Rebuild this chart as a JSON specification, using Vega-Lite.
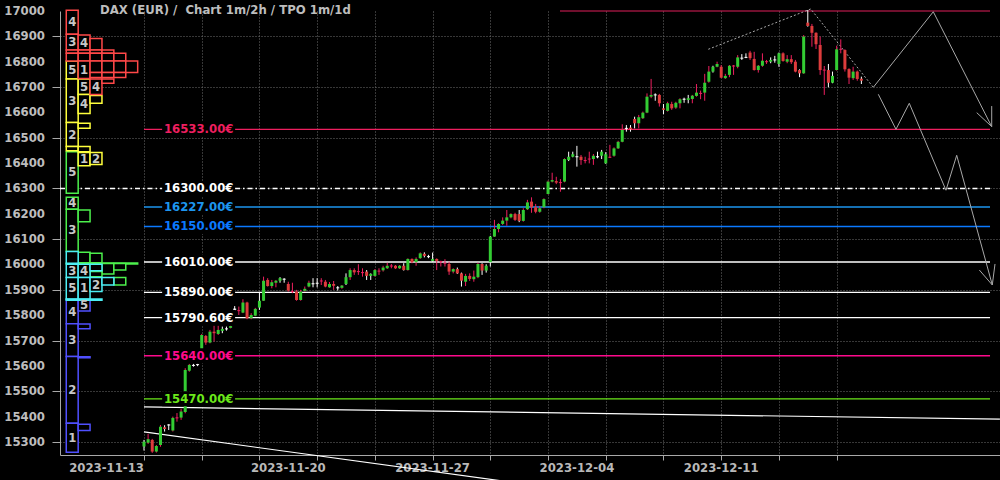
{
"$schema": "https://vega.github.io/schema/vega-lite/v6.json",
"width": 940,
"height": 444,
"autosize": {"type": "none"},
"padding": {"left": 60, "top": 11, "right": 0, "bottom": 25},
"background": "#000000",
"config": {"view": {"stroke": null}},
"datasets": {
"ylabels": [{"v":15300},{"v":15400},{"v":15500},{"v":15600},{"v":15700},{"v":15800},{"v":15900},{"v":16000},{"v":16100},{"v":16200},{"v":16300},{"v":16400},{"v":16500},{"v":16600},{"v":16700},{"v":16800},{"v":16900},{"v":17000}],
"xlabels": [{"i":0,"d":"2023-11-13"},{"i":35,"d":"2023-11-20"},{"i":70,"d":"2023-11-27"},{"i":105,"d":"2023-12-04"},{"i":140,"d":"2023-12-11"}],
"levels": [
{"p":16533,"lab":"16533.00€"},{"p":16300,"lab":"16300.00€"},{"p":16227,"lab":"16227.00€"},{"p":16150,"lab":"16150.00€"},{"p":16010,"lab":"16010.00€"},{"p":15890,"lab":"15890.00€"},{"p":15790.6,"lab":"15790.60€"},{"p":15640,"lab":"15640.00€"},{"p":15470,"lab":"15470.00€"}
],
"paths": [
{"s":"L1","o":0,"i":0,"p":15438},{"s":"L1","o":1,"i":207.6,"p":15390},
{"s":"L2","o":0,"i":0,"p":15339.5},{"s":"L2","o":1,"i":87.6,"p":15144.6},
{"s":"A1","o":0,"i":136.87,"p":16849},{"s":"A1","o":1,"i":161.71,"p":17008},{"s":"A1","o":2,"i":176.89,"p":16699},
{"s":"A2","o":0,"i":176.89,"p":16699},{"s":"A2","o":1,"i":191.44,"p":16997},{"s":"A2","o":2,"i":205.61,"p":16544},
{"s":"A3","o":0,"i":201.97,"p":16599},{"s":"A3","o":1,"i":205.61,"p":16544},{"s":"A3","o":2,"i":205.61,"p":16625},
{"s":"B1","o":0,"i":178.1,"p":16671.5},{"s":"B1","o":1,"i":182.39,"p":16533.4},{"s":"B1","o":2,"i":185.62,"p":16636},{"s":"B1","o":3,"i":194.52,"p":16293},{"s":"B1","o":4,"i":197.12,"p":16430.8},{"s":"B1","o":5,"i":205.75,"p":15919.3},
{"s":"B2","o":0,"i":202.6,"p":15978.4},{"s":"B2","o":1,"i":205.75,"p":15919.3},{"s":"B2","o":2,"i":206.41,"p":16002.1}
],
"tpo": [
{"g":"B","x0":-18.85,"x1":-15.96,"lo":15766,"hi":15863,"t":"4"},
{"g":"B","x0":-18.85,"x1":-15.96,"lo":15637,"hi":15766,"t":"3"},
{"g":"B","x0":-18.85,"x1":-15.96,"lo":15374,"hi":15637,"t":"2"},
{"g":"B","x0":-18.85,"x1":-15.96,"lo":15259,"hi":15374,"t":"1"},
{"g":"B","x0":-15.96,"x1":-13.08,"lo":15817,"hi":15863,"t":"5"},
{"g":"B","x0":-15.96,"x1":-13.08,"lo":15747,"hi":15765},
{"g":"B","x0":-15.96,"x1":-13.08,"lo":15632,"hi":15636},
{"g":"B","x0":-15.96,"x1":-13.08,"lo":15345,"hi":15370},
{"g":"G","x0":-18.85,"x1":-15.96,"lo":16281,"hi":16445,"t":"5"},
{"g":"G","x0":-18.85,"x1":-15.96,"lo":16218,"hi":16265,"t":"4"},
{"g":"G","x0":-18.85,"x1":-15.96,"lo":16051,"hi":16218,"t":"3"},
{"g":"G","x0":-15.96,"x1":-13.08,"lo":16169,"hi":16215},
{"g":"G","x0":-15.96,"x1":-13.08,"lo":16007,"hi":16048},
{"g":"G","x0":-13.08,"x1":-10.19,"lo":16007,"hi":16044},
{"g":"G","x0":-18.85,"x1":-1.53,"lo":16002,"hi":16006},
{"g":"G","x0":-10.19,"x1":-7.31,"lo":15963,"hi":16004},
{"g":"G","x0":-7.31,"x1":-4.42,"lo":15978,"hi":16004},
{"g":"G","x0":-13.08,"x1":-10.19,"lo":15952,"hi":15972},
{"g":"G","x0":-7.31,"x1":-4.42,"lo":15919,"hi":15949},
{"g":"C","x0":-18.85,"x1":-15.96,"lo":16005,"hi":16051},
{"g":"C","x0":-18.85,"x1":-15.96,"lo":15949,"hi":16001,"t":"3"},
{"g":"C","x0":-18.85,"x1":-15.96,"lo":15863,"hi":15949,"t":"5"},
{"g":"C","x0":-15.96,"x1":-13.08,"lo":15949,"hi":16001,"t":"4"},
{"g":"C","x0":-15.96,"x1":-13.08,"lo":15863,"hi":15949,"t":"1"},
{"g":"C","x0":-13.08,"x1":-10.19,"lo":15975,"hi":16001},
{"g":"C","x0":-13.08,"x1":-10.19,"lo":15893,"hi":15949,"t":"2"},
{"g":"C","x0":-10.19,"x1":-7.31,"lo":15919,"hi":15949},
{"g":"C","x0":-18.85,"x1":-10.19,"lo":15859,"hi":15864},
{"g":"Y","x0":-18.85,"x1":-15.96,"lo":16732,"hi":16803,"t":"5"},
{"g":"Y","x0":-18.85,"x1":-15.96,"lo":16560,"hi":16732,"t":"3"},
{"g":"Y","x0":-18.85,"x1":-15.96,"lo":16465,"hi":16560,"t":"2"},
{"g":"Y","x0":-18.85,"x1":-15.96,"lo":16449,"hi":16465},
{"g":"Y","x0":-15.96,"x1":-13.08,"lo":16671,"hi":16732,"t":"5"},
{"g":"Y","x0":-15.96,"x1":-13.08,"lo":16596,"hi":16671,"t":"4"},
{"g":"Y","x0":-15.96,"x1":-13.08,"lo":16537,"hi":16557},
{"g":"Y","x0":-15.96,"x1":-13.08,"lo":16445,"hi":16465},
{"g":"Y","x0":-15.96,"x1":-13.08,"lo":16390,"hi":16442,"t":"1"},
{"g":"Y","x0":-13.08,"x1":-10.19,"lo":16636,"hi":16667},
{"g":"Y","x0":-13.08,"x1":-10.19,"lo":16394,"hi":16442,"t":"2"},
{"g":"R","x0":-18.85,"x1":-15.96,"lo":16908,"hi":17003,"t":"4"},
{"g":"R","x0":-18.85,"x1":-15.96,"lo":16846,"hi":16908,"t":"3"},
{"g":"R","x0":-18.85,"x1":-15.96,"lo":16833,"hi":16846},
{"g":"R","x0":-18.85,"x1":-15.96,"lo":16803,"hi":16833},
{"g":"R","x0":-15.96,"x1":-13.08,"lo":16846,"hi":16905,"t":"4"},
{"g":"R","x0":-15.96,"x1":-13.08,"lo":16833,"hi":16846},
{"g":"R","x0":-15.96,"x1":-13.08,"lo":16803,"hi":16833},
{"g":"R","x0":-15.96,"x1":-13.08,"lo":16734,"hi":16803,"t":"1"},
{"g":"R","x0":-13.08,"x1":-10.19,"lo":16846,"hi":16892},
{"g":"R","x0":-13.08,"x1":-10.19,"lo":16833,"hi":16846},
{"g":"R","x0":-13.08,"x1":-10.19,"lo":16803,"hi":16833},
{"g":"R","x0":-13.08,"x1":-10.19,"lo":16757,"hi":16803},
{"g":"R","x0":-13.08,"x1":-10.19,"lo":16738,"hi":16757},
{"g":"R","x0":-13.08,"x1":-10.19,"lo":16671,"hi":16732,"t":"4"},
{"g":"R","x0":-10.19,"x1":-7.31,"lo":16833,"hi":16846},
{"g":"R","x0":-10.19,"x1":-7.31,"lo":16803,"hi":16833},
{"g":"R","x0":-10.19,"x1":-7.31,"lo":16757,"hi":16803},
{"g":"R","x0":-10.19,"x1":-7.31,"lo":16738,"hi":16757},
{"g":"R","x0":-10.19,"x1":-7.31,"lo":16715,"hi":16732},
{"g":"R","x0":-7.31,"x1":-4.42,"lo":16803,"hi":16833},
{"g":"R","x0":-7.31,"x1":-4.42,"lo":16757,"hi":16803},
{"g":"R","x0":-7.31,"x1":-4.42,"lo":16738,"hi":16757},
{"g":"R","x0":-4.42,"x1":-1.53,"lo":16757,"hi":16803}
],
"candles": [
{"i":0,"o":15282,"h":15308,"l":15266,"c":15301,"w":"b"},
{"i":1,"o":15297,"h":15332,"l":15292,"c":15311,"w":"g"},
{"i":2,"o":15308,"h":15312,"l":15257,"c":15262,"w":"g"},
{"i":3,"o":15262,"h":15288,"l":15258,"c":15284,"w":"g"},
{"i":4,"o":15288,"h":15367,"l":15281,"c":15360,"w":"g"},
{"i":5,"o":15358,"h":15366,"l":15341,"c":15351,"w":"b"},
{"i":6,"o":15369,"h":15370,"l":15347,"c":15365,"w":"b"},
{"i":7,"o":15345,"h":15400,"l":15341,"c":15395,"w":"g"},
{"i":8,"o":15393,"h":15414,"l":15380,"c":15397,"w":"g"},
{"i":9,"o":15396,"h":15431,"l":15387,"c":15420,"w":"g"},
{"i":10,"o":15418,"h":15591,"l":15413,"c":15584,"w":"g"},
{"i":11,"o":15581,"h":15608,"l":15577,"c":15604,"w":"g"},
{"i":12,"o":15604,"h":15608,"l":15597,"c":15600,"w":"b"},
{"i":13,"o":15607,"h":15608,"l":15599,"c":15603,"w":"b"},
{"i":14,"o":15666,"h":15726,"l":15663,"c":15722,"w":"g"},
{"i":15,"o":15718,"h":15722,"l":15683,"c":15692,"w":"g"},
{"i":16,"o":15692,"h":15742,"l":15689,"c":15735,"w":"g"},
{"i":17,"o":15735,"h":15758,"l":15696,"c":15729,"w":"g"},
{"i":18,"o":15726,"h":15758,"l":15722,"c":15742,"w":"g"},
{"i":19,"o":15738,"h":15755,"l":15729,"c":15746,"w":"b"},
{"i":20,"o":15748,"h":15755,"l":15739,"c":15744,"w":"b"},
{"i":21,"o":15750,"h":15758,"l":15748,"c":15757,"w":"g"},
{"i":22,"o":15826,"h":15836,"l":15818,"c":15821,"w":"b"},
{"i":23,"o":15820,"h":15834,"l":15801,"c":15816,"w":"g"},
{"i":24,"o":15810,"h":15863,"l":15808,"c":15850,"w":"g"},
{"i":25,"o":15850,"h":15853,"l":15784,"c":15788,"w":"g"},
{"i":26,"o":15788,"h":15808,"l":15784,"c":15801,"w":"g"},
{"i":27,"o":15798,"h":15829,"l":15796,"c":15825,"w":"g"},
{"i":28,"o":15830,"h":15890,"l":15821,"c":15857,"w":"b"},
{"i":29,"o":15857,"h":15952,"l":15856,"c":15936,"w":"g"},
{"i":30,"o":15939,"h":15946,"l":15913,"c":15915,"w":"g"},
{"i":31,"o":15915,"h":15939,"l":15906,"c":15930,"w":"g"},
{"i":32,"o":15928,"h":15939,"l":15910,"c":15936,"w":"g"},
{"i":33,"o":15936,"h":15950,"l":15928,"c":15946,"w":"b"},
{"i":34,"o":15944,"h":15946,"l":15928,"c":15940,"w":"b"},
{"i":35,"o":15923,"h":15932,"l":15893,"c":15897,"w":"g"},
{"i":36,"o":15895,"h":15928,"l":15887,"c":15891,"w":"g"},
{"i":37,"o":15893,"h":15900,"l":15857,"c":15860,"w":"g"},
{"i":38,"o":15860,"h":15900,"l":15857,"c":15893,"w":"g"},
{"i":39,"o":15896,"h":15913,"l":15893,"c":15904,"w":"g"},
{"i":40,"o":15913,"h":15936,"l":15910,"c":15928,"w":"g"},
{"i":41,"o":15926,"h":15946,"l":15910,"c":15922,"w":"b"},
{"i":42,"o":15928,"h":15946,"l":15910,"c":15924,"w":"b"},
{"i":43,"o":15937,"h":15946,"l":15919,"c":15933,"w":"g"},
{"i":44,"o":15932,"h":15939,"l":15910,"c":15913,"w":"g"},
{"i":45,"o":15910,"h":15931,"l":15908,"c":15923,"w":"g"},
{"i":46,"o":15923,"h":15935,"l":15900,"c":15916,"w":"g"},
{"i":47,"o":15910,"h":15915,"l":15897,"c":15906,"w":"b"},
{"i":48,"o":15908,"h":15919,"l":15904,"c":15917,"w":"g"},
{"i":49,"o":15923,"h":15965,"l":15919,"c":15950,"w":"b"},
{"i":50,"o":15950,"h":15985,"l":15939,"c":15978,"w":"g"},
{"i":51,"o":15978,"h":15985,"l":15959,"c":15969,"w":"g"},
{"i":52,"o":15974,"h":16001,"l":15959,"c":15970,"w":"g"},
{"i":53,"o":15970,"h":15985,"l":15952,"c":15966,"w":"g"},
{"i":54,"o":15972,"h":15978,"l":15939,"c":15955,"w":"b"},
{"i":55,"o":15955,"h":15965,"l":15939,"c":15963,"w":"b"},
{"i":56,"o":15955,"h":15982,"l":15952,"c":15978,"w":"g"},
{"i":57,"o":15976,"h":15985,"l":15959,"c":15972,"w":"g"},
{"i":58,"o":15977,"h":15995,"l":15972,"c":15988,"w":"g"},
{"i":59,"o":15985,"h":16007,"l":15982,"c":15995,"w":"g"},
{"i":60,"o":15996,"h":16002,"l":15985,"c":15992,"w":"g"},
{"i":61,"o":15995,"h":15998,"l":15982,"c":15985,"w":"g"},
{"i":62,"o":15985,"h":15998,"l":15982,"c":15995,"w":"g"},
{"i":63,"o":15995,"h":16005,"l":15976,"c":15978,"w":"b"},
{"i":64,"o":15978,"h":16024,"l":15976,"c":16022,"w":"g"},
{"i":65,"o":16022,"h":16024,"l":16005,"c":16009,"w":"g"},
{"i":66,"o":16009,"h":16028,"l":15995,"c":16022,"w":"g"},
{"i":67,"o":16025,"h":16048,"l":16022,"c":16044,"w":"g"},
{"i":68,"o":16042,"h":16048,"l":16028,"c":16034,"w":"b"},
{"i":69,"o":16033,"h":16038,"l":16025,"c":16029,"w":"b"},
{"i":70,"o":16014,"h":16047,"l":16011,"c":16022,"w":"b"},
{"i":71,"o":16022,"h":16024,"l":15978,"c":16014,"w":"g"},
{"i":72,"o":16013,"h":16015,"l":15992,"c":16009,"w":"g"},
{"i":73,"o":16007,"h":16021,"l":15992,"c":16003,"w":"g"},
{"i":74,"o":16002,"h":16011,"l":15959,"c":15972,"w":"g"},
{"i":75,"o":15972,"h":15985,"l":15965,"c":15982,"w":"g"},
{"i":76,"o":15982,"h":15988,"l":15963,"c":15965,"w":"b"},
{"i":77,"o":15965,"h":15968,"l":15913,"c":15936,"w":"b"},
{"i":78,"o":15932,"h":15963,"l":15915,"c":15955,"w":"g"},
{"i":79,"o":15955,"h":15965,"l":15935,"c":15943,"w":"g"},
{"i":80,"o":15942,"h":15976,"l":15932,"c":15952,"w":"g"},
{"i":81,"o":15950,"h":16007,"l":15946,"c":16002,"w":"g"},
{"i":82,"o":16002,"h":16005,"l":15959,"c":15976,"w":"b"},
{"i":83,"o":15976,"h":16001,"l":15968,"c":15995,"w":"b"},
{"i":84,"o":16009,"h":16113,"l":15992,"c":16110,"w":"b"},
{"i":85,"o":16110,"h":16176,"l":16109,"c":16140,"w":"g"},
{"i":86,"o":16140,"h":16163,"l":16127,"c":16160,"w":"g"},
{"i":87,"o":16160,"h":16186,"l":16156,"c":16173,"w":"g"},
{"i":88,"o":16173,"h":16215,"l":16153,"c":16186,"w":"g"},
{"i":89,"o":16186,"h":16202,"l":16182,"c":16199,"w":"g"},
{"i":90,"o":16199,"h":16204,"l":16172,"c":16176,"w":"g"},
{"i":91,"o":16199,"h":16215,"l":16167,"c":16172,"w":"b"},
{"i":92,"o":16172,"h":16222,"l":16169,"c":16215,"w":"g"},
{"i":93,"o":16218,"h":16255,"l":16215,"c":16245,"w":"g"},
{"i":94,"o":16248,"h":16265,"l":16204,"c":16226,"w":"g"},
{"i":95,"o":16226,"h":16239,"l":16202,"c":16208,"w":"g"},
{"i":96,"o":16208,"h":16231,"l":16204,"c":16222,"w":"g"},
{"i":97,"o":16226,"h":16261,"l":16222,"c":16258,"w":"g"},
{"i":98,"o":16278,"h":16331,"l":16277,"c":16327,"w":"g"},
{"i":99,"o":16327,"h":16362,"l":16324,"c":16333,"w":"g"},
{"i":100,"o":16329,"h":16346,"l":16317,"c":16323,"w":"g"},
{"i":101,"o":16325,"h":16337,"l":16287,"c":16321,"w":"g"},
{"i":102,"o":16327,"h":16419,"l":16324,"c":16416,"w":"g"},
{"i":103,"o":16412,"h":16445,"l":16408,"c":16425,"w":"b"},
{"i":104,"o":16425,"h":16445,"l":16423,"c":16435,"w":"b"},
{"i":105,"o":16427,"h":16468,"l":16386,"c":16423,"w":"b"},
{"i":106,"o":16425,"h":16432,"l":16393,"c":16412,"w":"g"},
{"i":107,"o":16412,"h":16425,"l":16399,"c":16408,"w":"g"},
{"i":108,"o":16418,"h":16445,"l":16399,"c":16414,"w":"g"},
{"i":109,"o":16416,"h":16436,"l":16393,"c":16429,"w":"g"},
{"i":110,"o":16427,"h":16445,"l":16419,"c":16423,"w":"b"},
{"i":111,"o":16429,"h":16452,"l":16416,"c":16445,"w":"b"},
{"i":112,"o":16399,"h":16443,"l":16397,"c":16435,"w":"b"},
{"i":113,"o":16425,"h":16472,"l":16420,"c":16421,"w":"g"},
{"i":114,"o":16429,"h":16462,"l":16425,"c":16458,"w":"g"},
{"i":115,"o":16458,"h":16488,"l":16456,"c":16484,"w":"g"},
{"i":116,"o":16484,"h":16553,"l":16482,"c":16531,"w":"g"},
{"i":117,"o":16539,"h":16550,"l":16524,"c":16535,"w":"b"},
{"i":118,"o":16540,"h":16550,"l":16524,"c":16533,"w":"b"},
{"i":119,"o":16574,"h":16583,"l":16537,"c":16557,"w":"b"},
{"i":120,"o":16557,"h":16590,"l":16537,"c":16581,"w":"g"},
{"i":121,"o":16577,"h":16603,"l":16574,"c":16599,"w":"g"},
{"i":122,"o":16599,"h":16675,"l":16597,"c":16662,"w":"g"},
{"i":123,"o":16662,"h":16732,"l":16656,"c":16669,"w":"g"},
{"i":124,"o":16671,"h":16675,"l":16646,"c":16667,"w":"b"},
{"i":125,"o":16669,"h":16673,"l":16623,"c":16636,"w":"g"},
{"i":126,"o":16616,"h":16633,"l":16593,"c":16610,"w":"b"},
{"i":127,"o":16606,"h":16642,"l":16603,"c":16636,"w":"g"},
{"i":128,"o":16633,"h":16642,"l":16610,"c":16616,"w":"g"},
{"i":129,"o":16619,"h":16642,"l":16614,"c":16638,"w":"g"},
{"i":130,"o":16636,"h":16656,"l":16616,"c":16652,"w":"g"},
{"i":131,"o":16654,"h":16658,"l":16638,"c":16650,"w":"b"},
{"i":132,"o":16649,"h":16669,"l":16636,"c":16656,"w":"b"},
{"i":133,"o":16653,"h":16669,"l":16636,"c":16666,"w":"g"},
{"i":134,"o":16665,"h":16712,"l":16662,"c":16678,"w":"g"},
{"i":135,"o":16677,"h":16686,"l":16652,"c":16673,"w":"g"},
{"i":136,"o":16678,"h":16752,"l":16646,"c":16717,"w":"g"},
{"i":137,"o":16721,"h":16783,"l":16717,"c":16761,"w":"g"},
{"i":138,"o":16761,"h":16784,"l":16757,"c":16780,"w":"b"},
{"i":139,"o":16780,"h":16800,"l":16778,"c":16791,"w":"g"},
{"i":140,"o":16780,"h":16787,"l":16735,"c":16737,"w":"g"},
{"i":141,"o":16735,"h":16752,"l":16732,"c":16744,"w":"g"},
{"i":142,"o":16748,"h":16787,"l":16739,"c":16784,"w":"g"},
{"i":143,"o":16785,"h":16787,"l":16748,"c":16781,"w":"g"},
{"i":144,"o":16780,"h":16826,"l":16774,"c":16817,"w":"g"},
{"i":145,"o":16816,"h":16830,"l":16807,"c":16812,"w":"b"},
{"i":146,"o":16819,"h":16833,"l":16814,"c":16815,"w":"b"},
{"i":147,"o":16836,"h":16843,"l":16807,"c":16814,"w":"g"},
{"i":148,"o":16811,"h":16839,"l":16765,"c":16767,"w":"g"},
{"i":149,"o":16767,"h":16787,"l":16757,"c":16784,"w":"g"},
{"i":150,"o":16784,"h":16833,"l":16780,"c":16804,"w":"g"},
{"i":151,"o":16802,"h":16807,"l":16791,"c":16798,"w":"g"},
{"i":152,"o":16800,"h":16817,"l":16794,"c":16807,"w":"b"},
{"i":153,"o":16809,"h":16823,"l":16796,"c":16805,"w":"b"},
{"i":154,"o":16791,"h":16836,"l":16780,"c":16833,"w":"b"},
{"i":155,"o":16833,"h":16837,"l":16800,"c":16803,"w":"g"},
{"i":156,"o":16800,"h":16826,"l":16794,"c":16810,"w":"g"},
{"i":157,"o":16810,"h":16826,"l":16791,"c":16798,"w":"g"},
{"i":158,"o":16800,"h":16807,"l":16758,"c":16761,"w":"g"},
{"i":159,"o":16767,"h":16770,"l":16739,"c":16754,"w":"b"},
{"i":160,"o":16754,"h":16905,"l":16752,"c":16899,"w":"g"},
{"i":161,"o":16954,"h":17004,"l":16938,"c":16941,"w":"b"},
{"i":162,"o":16941,"h":16949,"l":16859,"c":16914,"w":"g"},
{"i":163,"o":16914,"h":16916,"l":16850,"c":16869,"w":"g"},
{"i":164,"o":16866,"h":16899,"l":16748,"c":16767,"w":"g"},
{"i":165,"o":16769,"h":16783,"l":16669,"c":16765,"w":"g"},
{"i":166,"o":16767,"h":16791,"l":16699,"c":16717,"w":"b"},
{"i":167,"o":16717,"h":16761,"l":16715,"c":16744,"w":"b"},
{"i":168,"o":16767,"h":16863,"l":16765,"c":16849,"w":"g"},
{"i":169,"o":16851,"h":16888,"l":16833,"c":16847,"w":"g"},
{"i":170,"o":16846,"h":16849,"l":16761,"c":16770,"w":"g"},
{"i":171,"o":16771,"h":16774,"l":16712,"c":16737,"w":"g"},
{"i":172,"o":16735,"h":16780,"l":16728,"c":16761,"w":"g"},
{"i":173,"o":16761,"h":16765,"l":16725,"c":16732,"w":"g"},
{"i":174,"o":16733,"h":16741,"l":16712,"c":16725,"w":"b"}
]
},
"layer": [
{
"data": {"name": "levels"},
"transform": [{"filter": "datum.lab != '16300.00€'"}],
"mark": {"type": "rule", "strokeWidth": 1.4},
"encoding": {
"x": {"datum": 0, "type": "quantitative", "scale": {"domain": [-20.37, 207.62], "nice": false, "zero": false, "padding": 0},
"axis": {"title": null, "values": [0,7,14,21,28,35,42,49,56,63,70,77,84,91,98,105,112,119,126,133,140,147,154,161,168],
"grid": true, "gridColor": "#6e6e6e", "gridDash": [1, 2], "gridWidth": 1,
"domainColor": "#a8a8a8", "tickColor": "#a8a8a8", "tickSize": 5, "labels": false}},
"x2": {"datum": 205.2},
"y": {"field": "p", "type": "quantitative", "scale": {"domain": [15248.5, 17000], "nice": false, "zero": false, "padding": 0},
"axis": {"title": null, "values": [15300,15350,15400,15450,15500,15550,15600,15650,15700,15750,15800,15850,15900,15950,16000,16050,16100,16150,16200,16250,16300,16350,16400,16450,16500,16550,16600,16650,16700,16750,16800,16850,16900,16950,17000],
"grid": true, "gridColor": "#6e6e6e", "gridDash": [1, 2], "gridWidth": 1,
"gridOpacity": {"condition": {"test": "datum.value % 100 == 0", "value": 1}, "value": 0},
"tickSize": {"condition": {"test": "datum.value % 100 == 0", "value": 8}, "value": 4},
"domainColor": "#a8a8a8", "tickColor": "#a8a8a8", "labels": false}},
"color": {"field": "lab", "type": "nominal", "scale": {"domain": ["16533.00€","16300.00€","16227.00€","16150.00€","16010.00€","15890.00€","15790.60€","15640.00€","15470.00€"], "range": ["#ee1f5f","#ffffff","#1d95ee","#0b79ff","#ffffff","#ffffff","#ffffff","#ff0a8c","#6be81a"]}, "legend": null}
}
},
{
"data": {"name": "ylabels"},
"mark": {"type": "text", "align": "right", "baseline": "middle", "dx": -15, "font": "DejaVu Sans Condensed, DejaVu Sans", "fontWeight": "bold", "fontSize": 13, "color": "#bdbdbd"},
"encoding": {
"x": {"datum": -20.37, "type": "quantitative"},
"y": {"field": "v", "type": "quantitative"},
"text": {"field": "v", "format": "d"}
}
},
{
"data": {"name": "xlabels"},
"transform": [{"filter": "datum.i == 0"}],
"mark": {"type": "text", "align": "right", "baseline": "top", "dy": 7, "font": "DejaVu Sans Condensed, DejaVu Sans", "fontWeight": "bold", "fontSize": 13, "color": "#b8b8b8"},
"encoding": {
"x": {"field": "i", "type": "quantitative"},
"y": {"datum": 15248.5, "type": "quantitative"},
"text": {"field": "d"}
}
},
{
"data": {"name": "xlabels"},
"transform": [{"filter": "datum.i > 0"}],
"mark": {"type": "text", "align": "center", "baseline": "top", "dy": 7, "font": "DejaVu Sans Condensed, DejaVu Sans", "fontWeight": "bold", "fontSize": 13, "color": "#b8b8b8"},
"encoding": {
"x": {"field": "i", "type": "quantitative"},
"y": {"datum": 15248.5, "type": "quantitative"},
"text": {"field": "d"}
}
},
{
"data": {"name": "levels"},
"transform": [{"filter": "datum.lab == '16300.00€'"}],
"mark": {"type": "rule", "strokeWidth": 1.4, "color": "#ffffff", "strokeDash": [5, 3, 1.5, 3]},
"encoding": {
"x": {"datum": -20.37, "type": "quantitative"},
"x2": {"datum": 205.2},
"y": {"field": "p", "type": "quantitative"}
}
},
{
"data": {"values": [{"p": 17000}]},
"mark": {"type": "rule", "strokeWidth": 1.2, "color": "#e01e5a"},
"encoding": {
"x": {"datum": 100.9, "type": "quantitative"},
"x2": {"datum": 205.2},
"y": {"field": "p", "type": "quantitative"}
}
},
{
"data": {"name": "paths"},
"transform": [{"filter": "datum.s == 'L1' || datum.s == 'L2'"}],
"mark": {"type": "line", "strokeWidth": 1.2, "color": "#ffffff"},
"encoding": {
"x": {"field": "i", "type": "quantitative"},
"y": {"field": "p", "type": "quantitative"},
"detail": {"field": "s"},
"order": {"field": "o"}
}
},
{
"data": {"name": "paths"},
"transform": [{"filter": "datum.s == 'A1'"}],
"mark": {"type": "line", "strokeWidth": 1, "color": "#a8a8a8", "strokeDash": [2, 2]},
"encoding": {
"x": {"field": "i", "type": "quantitative"},
"y": {"field": "p", "type": "quantitative"},
"order": {"field": "o"}
}
},
{
"data": {"name": "paths"},
"transform": [{"filter": "datum.s != 'A1' && datum.s != 'L1' && datum.s != 'L2'"}],
"mark": {"type": "line", "strokeWidth": 1, "color": "#a8a8a8"},
"encoding": {
"x": {"field": "i", "type": "quantitative"},
"y": {"field": "p", "type": "quantitative"},
"detail": {"field": "s"},
"order": {"field": "o"}
}
},
{
"data": {"name": "candles"},
"mark": {"type": "rule", "strokeWidth": 1},
"encoding": {
"x": {"field": "i", "type": "quantitative"},
"y": {"field": "l", "type": "quantitative"},
"y2": {"field": "h"},
"color": {"field": "w", "type": "nominal", "scale": {"domain": ["g", "b"], "range": ["#a9a9a9", "#3b4dff"]}, "legend": null}
}
},
{
"data": {"name": "candles"},
"mark": {"type": "bar", "size": 3},
"encoding": {
"x": {"field": "i", "type": "quantitative"},
"y": {"field": "o", "type": "quantitative"},
"y2": {"field": "c"},
"color": {"condition": [{"test": "datum.c - datum.o > 5", "value": "#33cc33"}, {"test": "datum.o - datum.c > 5", "value": "#dd3c3c"}], "field": "w", "type": "nominal", "scale": {"domain": ["g", "b"], "range": ["#a9a9a9", "#3b4dff"]}, "legend": null}
}
},
{
"data": {"name": "levels"},
"mark": {"type": "rule", "strokeWidth": 15, "color": "#000000"},
"encoding": {
"x": {"datum": 4.4, "type": "quantitative"},
"x2": {"datum": 22.1},
"y": {"field": "p", "type": "quantitative"}
}
},
{
"data": {"name": "levels"},
"mark": {"type": "text", "align": "right", "baseline": "middle", "font": "DejaVu Sans Condensed, DejaVu Sans", "fontWeight": "bold", "fontSize": 13},
"encoding": {
"x": {"datum": 21.7, "type": "quantitative"},
"y": {"field": "p", "type": "quantitative"},
"text": {"field": "lab"},
"color": {"field": "lab", "type": "nominal", "legend": null}
}
},
{
"data": {"name": "tpo"},
"mark": {"type": "rect", "fill": "#000000", "strokeWidth": 1.5},
"encoding": {
"x": {"field": "x0", "type": "quantitative"},
"x2": {"field": "x1"},
"y": {"field": "lo", "type": "quantitative"},
"y2": {"field": "hi"},
"stroke": {"field": "g", "type": "nominal", "scale": {"domain": ["R", "Y", "G", "C", "B"], "range": ["#ff4848", "#ffff3c", "#4cf04c", "#4ceef4", "#5050ff"]}, "legend": null}
}
},
{
"data": {"name": "tpo"},
"transform": [{"filter": "datum.t"}, {"calculate": "(datum.x0 + datum.x1) / 2", "as": "xm"}, {"calculate": "(datum.lo + datum.hi) / 2", "as": "ym"}],
"mark": {"type": "text", "align": "center", "baseline": "middle", "font": "DejaVu Sans Condensed, DejaVu Sans", "fontWeight": "bold", "fontSize": 13, "color": "#c8c8c8"},
"encoding": {
"x": {"field": "xm", "type": "quantitative"},
"y": {"field": "ym", "type": "quantitative"},
"text": {"field": "t"}
}
},
{
"data": {"values": [{"txt": "DAX (EUR) /\u00a0 Chart 1m/2h / TPO 1m/1d", "p": 17000}]},
"mark": {"type": "text", "align": "left", "baseline": "middle", "dy": -1, "font": "DejaVu Sans Condensed, DejaVu Sans", "fontWeight": "bold", "fontSize": 13, "color": "#bdbdbd"},
"encoding": {
"x": {"datum": -10.67, "type": "quantitative"},
"y": {"field": "p", "type": "quantitative"},
"text": {"field": "txt"}
}
}
]
}
